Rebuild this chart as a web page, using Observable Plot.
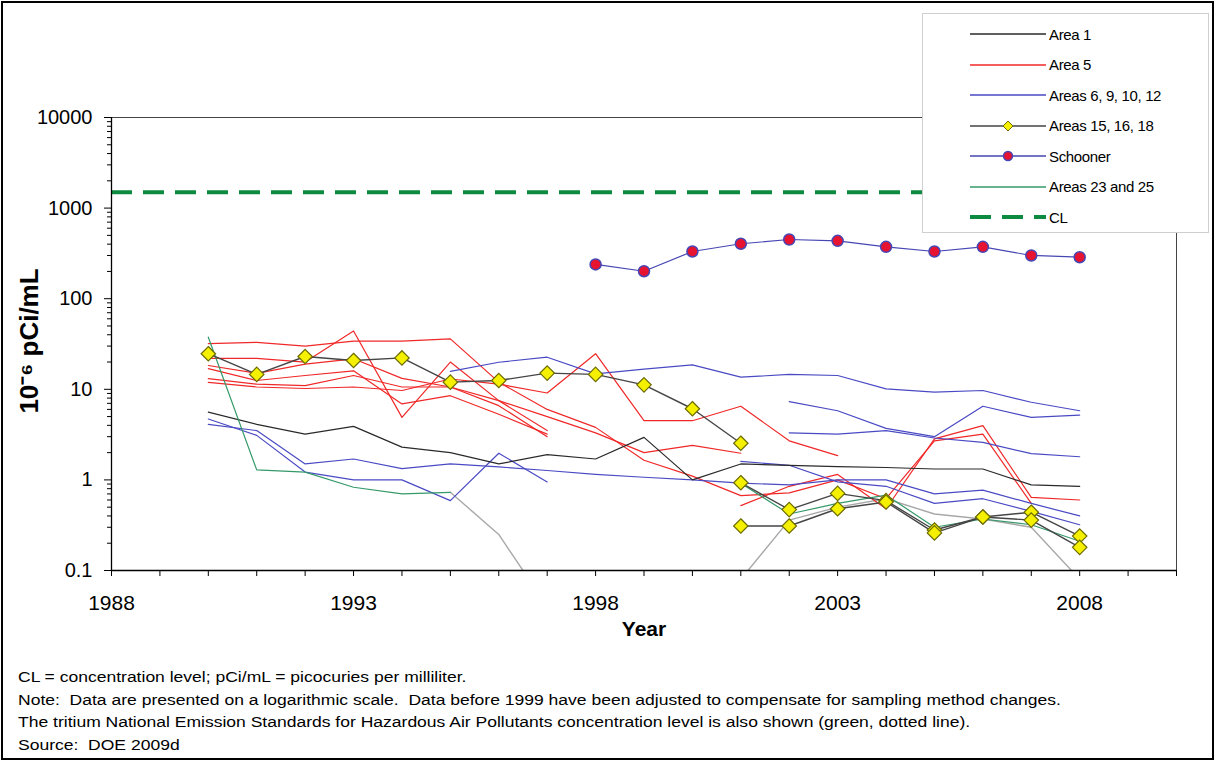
<!DOCTYPE html>
<html><head><meta charset="utf-8">
<script src="https://cdn.jsdelivr.net/npm/d3@7"></script>
<script src="https://cdn.jsdelivr.net/npm/@observablehq/plot@0.6"></script>
<style>
body{margin:0;background:#fff;font-family:"Liberation Sans",Arial,sans-serif;}
#wrap{position:relative;width:1215px;height:761px;overflow:hidden;background:#fff;}
#border{position:absolute;left:1px;top:1px;width:1213px;height:759px;border:2px solid #000;box-sizing:border-box;pointer-events:none;}
#chart{position:absolute;left:0;top:0;}
#legend{position:absolute;left:922px;top:13px;width:287px;height:220px;background:#fff;border:1px solid #cfcfcf;box-sizing:border-box;}
.item{position:absolute;left:0;display:flex;align-items:center;font-size:15px;letter-spacing:-0.35px;}
.item svg{display:block;margin-left:47px;margin-right:3px;}
#footer{position:absolute;left:18px;top:666px;font-size:15.5px;line-height:22.7px;color:#000;white-space:pre;transform:scaleX(1.13);transform-origin:0 0;}
</style></head><body>
<div id="wrap"><div id="chart"></div><div id="legend"></div><div id="footer"></div><div id="border"></div></div>
<script>
// ---------- data (values in 10^-6 pCi/mL) ----------
const years = d3.range(1990, 2009); // 1990 .. 2008
const schoonerYears = d3.range(1998, 2009);
const CL = 1500;

const area1 = [
  [5.6, 4.1, 3.2, 3.9, 2.3, 2.0, 1.5, 1.9, 1.7, 2.95, 1.0, 1.5, 1.45, 1.4, 1.37, 1.32, 1.32, 0.88, 0.85]
];
const area5 = [
  [32, 33, 30, 34, 34, 36, 12, 6, 3.8, 1.65, 1.1, 0.67, 0.72, 1.0, 0.62, 2.7, 3.2, 0.55, null],
  [22, 22, 20, 44, 4.9, 20, 7.5, 3.5, null, null, null, null, null, null, null, null, null, null, null],
  [18.3, 15, 19, 21.7, 13.2, 10.6, 6.6, 3.0, null, null, null, null, null, null, null, null, null, null, null],
  [16.9, 12.5, 14.2, 16, 6.9, 8.5, 5.3, 3.2, null, null, null, null, null, null, null, null, null, null, null],
  [13.1, 11.4, 11, 14.2, 10.6, 10.6, 7.5, 5, 3.3, 2.0, 2.4, 1.97, null, null, null, null, null, null, null],
  [11.9, 10.6, 10.2, 10.6, 9.7, 13, 11.4, 9.1, 24.7, 4.5, 4.5, 6.5, 2.7, 1.85, null, null, null, null, null],
  [null, null, null, null, null, null, null, null, null, null, null, 0.52, 0.85, 1.15, 0.48, 2.84, 3.98, 0.64, 0.6]
];
const areas6_9_10_12 = [
  [4.1, 3.5, 1.5, 1.7, 1.33, 1.5, 1.39, 1.27, 1.15, 1.07, 1.0, 0.92, 0.88, 1.0, 1.0, 0.7, 0.77, 0.55, 0.4],
  [4.7, 3.1, 1.22, 1.0, 1.0, 0.59, 1.97, 0.95, null, null, null, null, null, null, null, null, null, null, null],
  [null, null, null, null, null, 15.8, 19.9, 22.6, 14.8, 16.7, 18.6, 13.6, 14.6, 14.2, 10.1, 9.3, 9.7, 7.2, 5.8],
  [null, null, null, null, null, null, null, null, null, null, null, null, 7.3, 5.8, 3.7, 3.0, 6.5, 4.9, 5.2],
  [null, null, null, null, null, null, null, null, null, null, null, null, 3.3, 3.2, 3.5, 2.9, 2.6, 1.95, 1.8],
  [null, null, null, null, null, null, null, null, null, null, null, 1.6, 1.45, 0.95, 0.85, 0.55, 0.62, 0.45, 0.32]
];
const areas15_16_18 = [
  [24.7, 14.6, 23, 20.8, 22.2, 12, 12.5, 15.1, 14.6, 11.2, 6.1, 2.54, null, null, null, null, null, null, null],
  [null, null, null, null, null, null, null, null, null, null, null, 0.93, 0.47, 0.71, 0.59, 0.28, 0.39, 0.44, 0.24],
  [null, null, null, null, null, null, null, null, null, null, null, 0.31, 0.31, 0.48, 0.57, 0.26, 0.39, 0.36, 0.18]
];
const areas23_25 = [
  [37.6, 1.29, 1.22, 0.83, 0.70, 0.73, null, null, null, null, null, null, null, null, null, null, null, null, null],
  [null, null, null, null, null, null, null, null, null, null, null, 0.92, 0.42, 0.55, 0.68, 0.3, 0.37, 0.32, 0.21]
];
// segments that run below the axis minimum (drawn grey in the original)
const belowScale = [
  [null, null, null, null, null, 0.73, 0.25, 0.04, null, null, null, null, null, null, null, null, null, null, null],
  [null, null, null, null, null, null, null, null, null, null, null, 0.08, 0.36, 0.5, 0.62, 0.42, 0.37, 0.3, 0.08]
];
const schooner = [239, 201, 332, 404, 450, 435, 374, 332, 374, 300, 287];

// ---------- tidy rows ----------
function tidy(group, name) {
  const out = [];
  group.forEach((vals, i) => vals.forEach((v, j) => {
    if (v != null) out.push({year: years[j], value: v, id: name + i});
  }));
  return out;
}
const dArea1 = tidy(area1, "a1");
const dArea5 = tidy(area5, "a5");
const dBlue = tidy(areas6_9_10_12, "b");
const dDia = tidy(areas15_16_18, "y");
const dGreen = tidy(areas23_25, "g");
const dGrey = tidy(belowScale, "z");
const dSch = schooner.map((v, i) => ({year: schoonerYears[i], value: v}));

const RED = "#f02828", BLUE = "#4a4ac4", BLACK = "#2a2a2a", GREEN = "#35996a",
      DIA_LINE = "#454545", DIA_FILL = "#f4f000", DIA_STROKE = "#6b6b00",
      SCH_LINE = "#4646b4", SCH_FILL = "#e61430", CLC = "#0c8a40", GREY = "#a8a8a8";

const majors = [0.1, 1, 10, 100, 1000, 10000];
const minors = [];
for (let e = -1; e < 4; e++) for (let k = 2; k <= 9; k++) minors.push(k * Math.pow(10, e));

const lineOpts = (stroke, w) => ({x: "year", y: "value", z: "id", stroke, strokeWidth: w, clip: true});

const chart = Plot.plot({
  width: 1215, height: 660,
  marginLeft: 111, marginRight: 39, marginTop: 117, marginBottom: 90,
  style: {fontFamily: "Liberation Sans, Arial, sans-serif", fontSize: "20px", color: "#000", background: "transparent"},
  x: {domain: [1988, 2010]},
  y: {type: "log", domain: [0.1, 10000]},
  marks: [
    Plot.frame({stroke: "#444", strokeWidth: 1}),
    Plot.ruleY([CL], {stroke: CLC, strokeWidth: 4, strokeDasharray: "21,11"}),
    Plot.line(dGrey, lineOpts(GREY, 1.4)),
    Plot.line(dArea5, lineOpts(RED, 1.2)),
    Plot.line(dBlue, lineOpts(BLUE, 1.2)),
    Plot.line(dArea1, lineOpts(BLACK, 1.2)),
    Plot.line(dGreen, lineOpts(GREEN, 1.2)),
    Plot.line(dDia, lineOpts(DIA_LINE, 1.4)),
    Plot.dot(dDia, {x: "year", y: "value", symbol: "diamond2", r: 6.5, fill: DIA_FILL, stroke: DIA_STROKE, strokeWidth: 1.2}),
    Plot.line(dSch, {x: "year", y: "value", stroke: SCH_LINE, strokeWidth: 1.2}),
    Plot.dot(dSch, {x: "year", y: "value", r: 5.5, fill: SCH_FILL, stroke: SCH_LINE, strokeWidth: 1.5}),
    Plot.ruleX([1988], {stroke: "#000", strokeWidth: 1.3}),
    Plot.ruleY([0.1], {stroke: "#000", strokeWidth: 1.3}),
    Plot.axisX(d3.range(1988, 2011), {tickSize: 6, tickPadding: 19, stroke: "#000", fontSize: 21,
      tickFormat: d => (d - 1988) % 5 === 0 ? String(d) : "", label: null}),
    Plot.axisY(majors, {tickSize: 7, tickPadding: 12, stroke: "#000", fontSize: 20,
      tickFormat: d => d < 1 ? "0.1" : String(d), label: null}),
    Plot.axisY(minors, {tickSize: 4, stroke: "#000", tickFormat: () => "", label: null}),
    Plot.text(["Year"], {frameAnchor: "bottom", dy: 65, fontWeight: "bold", fontSize: 21}),
    Plot.text(["10⁻⁶ pCi/mL"], {frameAnchor: "left", textAnchor: "middle", dx: -82, dy: -3, rotate: -90, fontWeight: "bold", fontSize: 26})
  ]
});
document.getElementById("chart").appendChild(chart);

// ---------- legend ----------
const legendItems = [
  {label: "Area 1", stroke: BLACK},
  {label: "Area 5", stroke: RED},
  {label: "Areas 6, 9, 10, 12", stroke: BLUE},
  {label: "Areas 15, 16, 18", stroke: DIA_LINE, marker: "diamond"},
  {label: "Schooner", stroke: SCH_LINE, marker: "circle"},
  {label: "Areas 23 and 25", stroke: GREEN},
  {label: "CL", stroke: CLC, dashed: true}
];
const legend = document.getElementById("legend");
legendItems.forEach((it, i) => {
  const div = document.createElement("div");
  div.className = "item";
  div.style.top = (10 + i * 30.5) + "px";
  const w = 76, h = 20;
  let svg = `<svg width="${w}" height="${h}">`;
  if (it.dashed) svg += `<line x1="0" x2="${w}" y1="10" y2="10" stroke="${it.stroke}" stroke-width="4" stroke-dasharray="21,11"/>`;
  else svg += `<line x1="0" x2="${w}" y1="10" y2="10" stroke="${it.stroke}" stroke-width="1.4"/>`;
  if (it.marker === "diamond") svg += `<path d="M38,5 L43,10 L38,15 L33,10 Z" fill="${DIA_FILL}" stroke="${DIA_STROKE}" stroke-width="1"/>`;
  if (it.marker === "circle") svg += `<circle cx="38" cy="10" r="4.5" fill="${SCH_FILL}" stroke="${SCH_LINE}" stroke-width="1.5"/>`;
  svg += `</svg>`;
  div.innerHTML = svg + `<span>${it.label}</span>`;
  legend.appendChild(div);
});

// ---------- footer ----------
const footerLines = [
  "CL = concentration level; pCi/mL = picocuries per milliliter.",
  "Note:  Data are presented on a logarithmic scale.  Data before 1999 have been adjusted to compensate for sampling method changes.",
  "The tritium National Emission Standards for Hazardous Air Pollutants concentration level is also shown (green, dotted line).",
  "Source:  DOE 2009d"
];
document.getElementById("footer").textContent = footerLines.join("\n");
</script>
</body></html>
